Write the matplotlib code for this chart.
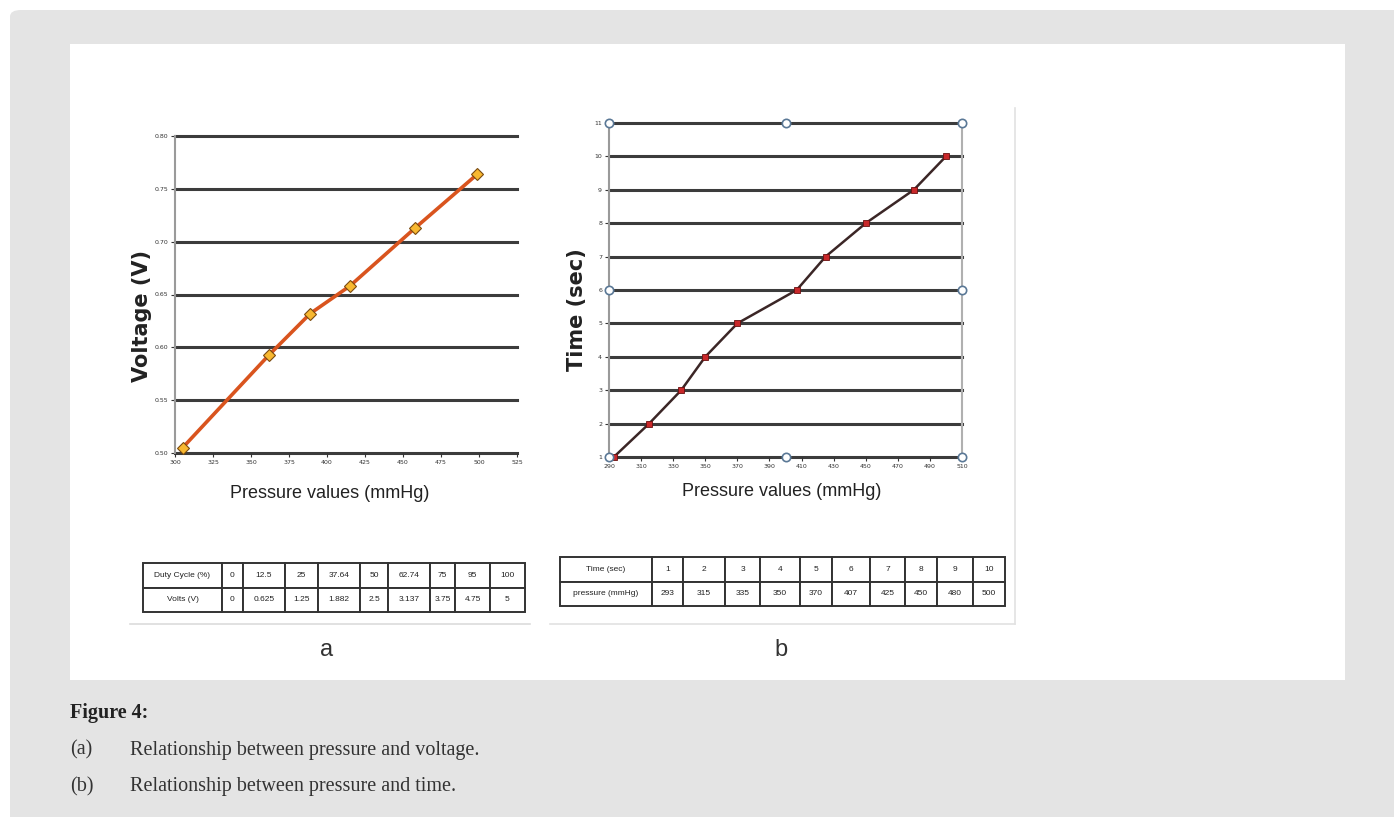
import matplotlib
matplotlib.use("Agg")
import matplotlib.pyplot as plt
from matplotlib.patches import FancyBboxPatch, Rectangle
from matplotlib.lines import Line2D

# chart a: pressure vs voltage
press_a = [305, 362, 389, 415, 458, 499]
volt_a = [0.505, 0.593, 0.632, 0.658, 0.713, 0.764]
xticks_a = [300, 325, 350, 375, 400, 425, 450, 475, 500, 525]
yticks_a = [0.50, 0.55, 0.60, 0.65, 0.70, 0.75, 0.80]

# chart b: pressure vs time
press_b = [293, 315, 335, 350, 370, 407, 425, 450, 480, 500]
time_b = [1, 2, 3, 4, 5, 6, 7, 8, 9, 10]
xticks_b = [290, 310, 330, 350, 370, 390, 410, 430, 450, 470, 490, 510]
yticks_b = [1, 2, 3, 4, 5, 6, 7, 8, 9, 10, 11]
handle_x = [290, 400, 510, 290, 510, 290, 400, 510]
handle_y = [11, 11, 11, 6, 6, 1, 1, 1]

# tables
duty_row = ["Duty Cycle (%)", "0", "12.5", "25", "37.64", "50", "62.74", "75", "95", "100"]
volts_row = ["Volts (V)", "0", "0.625", "1.25", "1.882", "2.5", "3.137", "3.75", "4.75", "5"]
time_row = ["Time (sec)", "1", "2", "3", "4", "5", "6", "7", "8", "9", "10"]
pres_row = ["pressure (mmHg)", "293", "315", "335", "350", "370", "407", "425", "450", "480", "500"]
colw_a = [79, 21, 42, 33, 42, 28, 42, 25, 35, 35]
colw_b = [92, 31, 42, 35, 40, 32, 38, 35, 32, 36, 32]

W, H = 1394, 817
NARROW = ["Liberation Sans", "DejaVu Sans"]
SERIF = ["Liberation Serif", "DejaVu Serif"]

fig = plt.figure(figsize=(W / 100, H / 100), dpi=100, facecolor="white")


def box(x0, y0, x1, y1):
    # pixel box (top-left origin) -> figure fraction rect
    return [x0 / W, 1 - y1 / H, (x1 - x0) / W, (y1 - y0) / H]


def fline(xs, ys, **kw):
    fig.add_artist(Line2D([x / W for x in xs], [1 - y / H for y in ys], **kw))


# gray panel and white inner area (kept below the axes)
fig.add_artist(FancyBboxPatch((10 / W, -0.05), 1.1, 1 - 10 / H + 0.05,
                              boxstyle="round,pad=0,rounding_size=0.008",
                              transform=fig.transFigure, facecolor="#e4e4e4",
                              edgecolor="none", zorder=-3))
fig.add_artist(Rectangle((70 / W, 1 - 680 / H), 1275 / W, 636 / H,
                         transform=fig.transFigure, facecolor="white",
                         edgecolor="none", zorder=-2))

# faint borders of the pasted chart images
fline([130, 530], [624, 624], color="#dcdcdc", lw=1.2, zorder=-1)
fline([550, 1015], [624, 624], color="#e2e2e2", lw=1.2, zorder=-1)
fline([1015, 1015], [108, 624], color="#e2e2e2", lw=1.2, zorder=-1)


def style_axes(ax, xt, yt):
    ax.set_facecolor("none")
    ax.set_xticks(xt)
    ax.set_yticks(yt)
    ax.tick_params(labelsize=4.5, length=3, width=0.8, colors="#333333", pad=2)
    for s in ["top", "right", "bottom"]:
        ax.spines[s].set_visible(False)
    ax.spines["left"].set_color("#9a9a9a")
    ax.spines["left"].set_linewidth(1.5)
    for y in yt:
        ax.axhline(y, color="#3c3c3c", lw=2.2, zorder=1, clip_on=False)


# ---- chart a ----
ax1 = fig.add_axes(box(175, 136, 517, 453))
ax1.set_xlim(300, 525)
ax1.set_ylim(0.50, 0.80)
style_axes(ax1, xticks_a, yticks_a)
ax1.set_xticklabels([str(v) for v in xticks_a])
ax1.set_yticklabels([f"{v:.2f}" for v in yticks_a])
ax1.plot(press_a, volt_a, color="#d9541e", lw=2.6, zorder=3, clip_on=False)
ax1.plot(press_a, volt_a, "D", ms=6.5, mfc="#f8b830", mec="#7a4a10", mew=0.8,
         zorder=4, clip_on=False)
fig.text(142 / W, 1 - 316 / H, "Voltage (V)", rotation=90, ha="center",
         va="center", fontsize=15, fontweight="bold", color="#222222")
fig.text(330 / W, 1 - 493 / H, "Pressure values (mmHg)", ha="center",
         va="center", fontsize=13, family=NARROW, color="#222222")

# ---- chart b ----
ax2 = fig.add_axes(box(609, 123, 962, 457))
ax2.set_xlim(290, 510)
ax2.set_ylim(1, 11)
style_axes(ax2, xticks_b, yticks_b)
ax2.spines["right"].set_visible(True)
ax2.spines["right"].set_color("#b0b0b0")
ax2.spines["right"].set_linewidth(1.5)
ax2.plot(press_b, time_b, color="#3b2626", lw=1.8, zorder=3, clip_on=False)
ax2.plot(press_b, time_b, "s", ms=4.5, mfc="#c8282a", mec="#6a1010", mew=0.6,
         zorder=4, clip_on=False)
ax2.plot(handle_x, handle_y, "o", ms=6, mfc="white", mec="#5a7896", mew=1.2,
         ls="none", zorder=5, clip_on=False)
fig.text(577 / W, 1 - 310 / H, "Time (sec)", rotation=90, ha="center",
         va="center", fontsize=15, fontweight="bold", color="#222222")
fig.text(782 / W, 1 - 492 / H, "Pressure values (mmHg)", ha="center",
         va="center", fontsize=13, family=NARROW, color="#222222")


def draw_table(rect, rows, widths):
    ax = fig.add_axes(rect)
    ax.axis("off")
    tot = sum(widths)
    tb = ax.table(cellText=rows, colWidths=[w / tot for w in widths],
                  cellLoc="center", bbox=[0, 0, 1, 1])
    tb.auto_set_font_size(False)
    for (r, c), cell in tb.get_celld().items():
        cell.set_linewidth(1.4)
        cell.set_edgecolor("#333333")
        cell.get_text().set_fontsize(6)
        cell.get_text().set_family(NARROW)
        cell.get_text().set_color("#222222")
    return tb


draw_table(box(143, 563, 525, 612), [duty_row, volts_row], colw_a)
draw_table(box(560, 557, 1005, 606), [time_row, pres_row], colw_b)

fig.text(327 / W, 1 - 650 / H, "a", ha="center", va="center", fontsize=17,
         family=NARROW, color="#333333")
fig.text(781 / W, 1 - 650 / H, "b", ha="center", va="center", fontsize=17,
         family=NARROW, color="#333333")

# caption
fig.text(70 / W, 1 - 713 / H, "Figure 4:", ha="left", va="center",
         fontsize=14.5, fontweight="bold", family=SERIF, color="#222222")
fig.text(70 / W, 1 - 750 / H, "(a)", ha="left", va="center", fontsize=14.5,
         family=SERIF, color="#333333")
fig.text(130 / W, 1 - 750 / H, "Relationship between pressure and voltage.",
         ha="left", va="center", fontsize=14.5, family=SERIF, color="#333333")
fig.text(70 / W, 1 - 787 / H, "(b)", ha="left", va="center", fontsize=14.5,
         family=SERIF, color="#333333")
fig.text(130 / W, 1 - 787 / H, "Relationship between pressure and time.",
         ha="left", va="center", fontsize=14.5, family=SERIF, color="#333333")

fig.savefig("out.png", dpi=100, facecolor=fig.get_facecolor())
